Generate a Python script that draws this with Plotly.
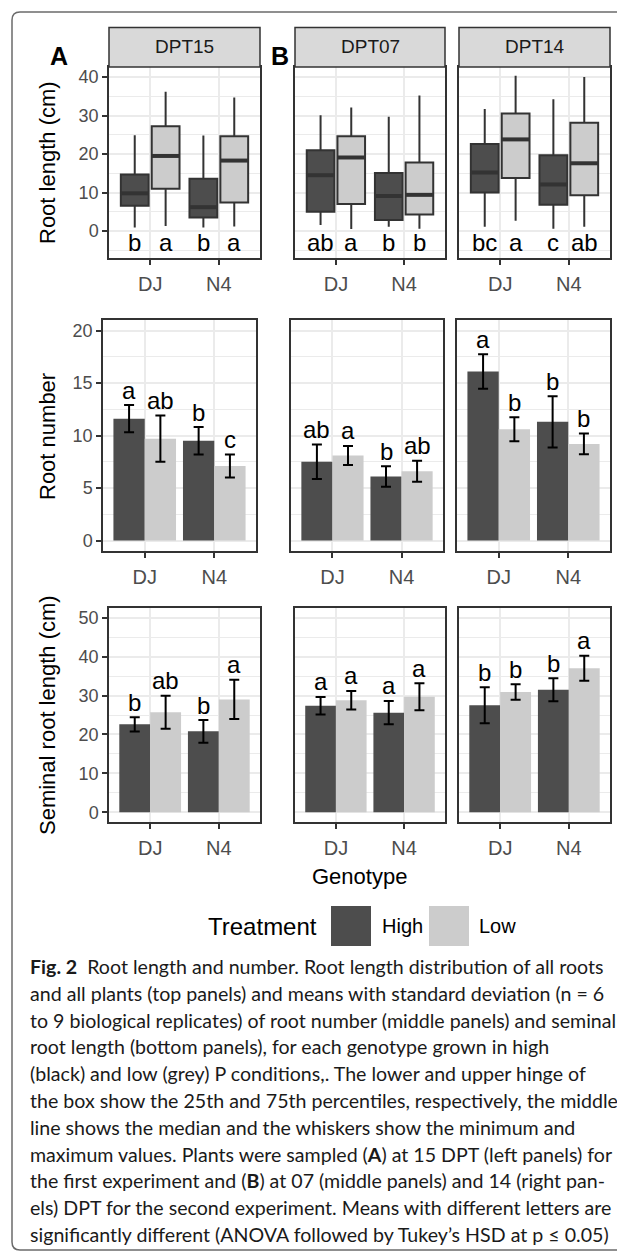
import plotly.graph_objects as go

# The page body has an 8px default margin, so the figure is drawn 8px smaller
# and all pixel positions (measured in window coordinates) are shifted by it.
WIN_W, WIN_H = 625, 1253
OFF = 8
W, H = WIN_W - OFF, WIN_H - OFF

# ---------------- data ----------------
genotypes = ["DJ", "N4"]
treatments = ["High", "Low"]
panels = ["DPT15", "DPT07", "DPT14"]
fill_colors = ["#4d4d4d", "#cccccc"]

# Root length distribution: [min, q1, median, q3, max] per genotype (DJ, N4)
rl_dpt15_high = [[0.9, 6.6, 9.8, 14.7, 24.9], [0.9, 3.5, 6.2, 13.6, 24.8]]
rl_dpt15_low = [[1.3, 11.0, 19.5, 27.2, 36.2], [1.2, 7.4, 18.3, 24.6, 34.7]]
rl_dpt07_high = [[1.6, 5.0, 14.5, 21.0, 30.1], [1.1, 2.9, 9.1, 15.1, 29.7]]
rl_dpt07_low = [[0.5, 7.0, 19.1, 24.6, 32.1], [0.6, 4.3, 9.4, 17.8, 35.2]]
rl_dpt14_high = [[1.1, 10.0, 15.2, 22.6, 31.7], [0.6, 6.8, 12.1, 19.7, 34.2]]
rl_dpt14_low = [[2.7, 13.8, 23.8, 30.5, 40.3], [1.1, 9.3, 17.6, 28.1, 40.0]]
rl_letters_dpt15 = [["b", "b"], ["a", "a"]]      # [High, Low] x [DJ, N4]
rl_letters_dpt07 = [["ab", "b"], ["a", "b"]]
rl_letters_dpt14 = [["bc", "c"], ["a", "ab"]]
rl_letter_y = -3.0

# Root number: mean and SD per genotype (DJ, N4)
rn_dpt15_high_mean = [11.6, 9.5]
rn_dpt15_high_sd = [1.3, 1.3]
rn_dpt15_low_mean = [9.7, 7.1]
rn_dpt15_low_sd = [2.2, 1.1]
rn_dpt07_high_mean = [7.5, 6.1]
rn_dpt07_high_sd = [1.65, 0.98]
rn_dpt07_low_mean = [8.1, 6.6]
rn_dpt07_low_sd = [0.9, 1.0]
rn_dpt14_high_mean = [16.1, 11.3]
rn_dpt14_high_sd = [1.65, 2.45]
rn_dpt14_low_mean = [10.6, 9.2]
rn_dpt14_low_sd = [1.15, 0.98]
rn_letters_dpt15 = [["a", "b"], ["ab", "c"]]
rn_letters_dpt07 = [["ab", "b"], ["a", "ab"]]
rn_letters_dpt14 = [["a", "b"], ["b", "b"]]

# Seminal root length: mean and SD per genotype (DJ, N4)
sl_dpt15_high_mean = [22.6, 20.8]
sl_dpt15_high_sd = [1.85, 2.9]
sl_dpt15_low_mean = [25.7, 29.0]
sl_dpt15_low_sd = [4.25, 5.05]
sl_dpt07_high_mean = [27.4, 25.6]
sl_dpt07_high_sd = [2.25, 3.0]
sl_dpt07_low_mean = [28.8, 29.7]
sl_dpt07_low_sd = [2.4, 3.45]
sl_dpt14_high_mean = [27.5, 31.5]
sl_dpt14_high_sd = [4.6, 2.95]
sl_dpt14_low_mean = [30.9, 37.0]
sl_dpt14_low_sd = [2.0, 3.2]
sl_letters_dpt15 = [["b", "b"], ["ab", "a"]]
sl_letters_dpt07 = [["a", "a"], ["a", "a"]]
sl_letters_dpt14 = [["b", "b"], ["b", "a"]]

caption_lines = [
    "<b>Fig. 2</b>  Root length and number. Root length distribution of all roots",
    "and all plants (top panels) and means with standard deviation (n = 6",
    "to 9 biological replicates) of root number (middle panels) and seminal",
    "root length (bottom panels), for each genotype grown in high",
    "(black) and low (grey) P conditions,. The lower and upper hinge of",
    "the box show the 25th and 75th percentiles, respectively, the middle",
    "line shows the median and the whiskers show the minimum and",
    "maximum values. Plants were sampled (<b>A</b>) at 15 DPT (left panels) for",
    "the first experiment and (<b>B</b>) at 07 (middle panels) and 14 (right pan-",
    "els) DPT for the second experiment. Means with different letters are",
    "significantly different (ANOVA followed by Tukey\u2019s HSD at p \u2264 0.05)",
]

# ---------------- layout helpers ----------------
FONT = "Liberation Sans, Arial, sans-serif"
CAP_FONT = "Lato, Open Sans, sans-serif"


def px_x(v):
    return (v - OFF) / W


def px_y(v):
    return 1 - (v - OFF) / H


DODGE = 0.9
n_tr = len(treatments)
slot = DODGE / n_tr
BOX_W = slot * 0.9


def pos(gi, ti):
    return gi - DODGE / 2 + slot * (ti + 0.5)


row_x_px = {
    "top": [(109, 260), (295, 445), (459, 610)],
    "mid": [(103, 256), (291, 443), (457, 610)],
    "bot": [(109, 260), (295, 445), (459, 610)],
}
row_y_px = {"top": (67, 258), "mid": (320, 551), "bot": (608, 822)}
row_yrange = {"top": [-7.0, 42.6], "mid": [-1.0, 21.0], "bot": [-2.5, 52.5]}
row_major = {"top": [0, 10, 20, 30, 40], "mid": [0, 5, 10, 15, 20], "bot": [0, 10, 20, 30, 40, 50]}
row_minor = {"top": [-5, 5, 15, 25, 35], "mid": [2.5, 7.5, 12.5, 17.5], "bot": [5, 15, 25, 35, 45]}
row_title = {"top": "Root length (cm)", "mid": "Root number", "bot": "Seminal root length (cm)"}
row_title_y = {"top": 162, "mid": 436, "bot": 715}

fig = go.Figure()
layout = dict(
    width=W, height=H, margin=dict(l=0, r=0, t=0, b=0),
    paper_bgcolor="white", plot_bgcolor="white",
    showlegend=False, barmode="overlay", boxmode="overlay",
    font=dict(family=FONT, color="black"),
)
annotations = []
shapes = []

axis_idx = 0
axis_of = {}
for row in ["top", "mid", "bot"]:
    for p in range(3):
        axis_idx += 1
        axis_of[(row, p)] = axis_idx
        xs = "" if axis_idx == 1 else str(axis_idx)
        x0, x1 = row_x_px[row][p]
        y0, y1 = row_y_px[row]
        layout["xaxis" + xs] = dict(
            domain=[px_x(x0), px_x(x1)], anchor="y" + xs,
            range=[-0.6, 1.6], tickmode="array", tickvals=list(range(len(genotypes))),
            ticktext=genotypes, showgrid=True, gridcolor="#ebebeb", gridwidth=1.6,
            zeroline=False, showline=True, linecolor="#333333", linewidth=1.5, mirror=True,
            ticks="outside", ticklen=5, tickwidth=1.5, tickcolor="#333333",
            ticklabelstandoff=2,
            tickfont=dict(size=20, color="#4d4d4d", family=FONT),
        )
        layout["yaxis" + xs] = dict(
            domain=[px_y(y1), px_y(y0)], anchor="x" + xs,
            range=row_yrange[row], tickmode="array", tickvals=row_major[row],
            ticktext=[str(v) for v in row_major[row]],
            showticklabels=(p == 0),
            showgrid=True, gridcolor="#ebebeb", gridwidth=1.6,
            minor=dict(tickmode="array", tickvals=row_minor[row], showgrid=True,
                       gridcolor="#ebebeb", gridwidth=0.8, ticks=""),
            zeroline=False, showline=True, linecolor="#333333", linewidth=1.5, mirror=True,
            ticks="outside" if p == 0 else "", ticklen=5, tickwidth=1.5, tickcolor="#333333",
            tickfont=dict(size=18, color="#4d4d4d", family=FONT),
        )

# ---- top row: boxplots ----
rl_data = [[rl_dpt15_high, rl_dpt15_low], [rl_dpt07_high, rl_dpt07_low], [rl_dpt14_high, rl_dpt14_low]]
rl_letters = [rl_letters_dpt15, rl_letters_dpt07, rl_letters_dpt14]
for p in range(3):
    ai = axis_of[("top", p)]
    xs = "" if ai == 1 else str(ai)
    for ti in range(n_tr):
        stats = rl_data[p][ti]
        xpos = [pos(gi, ti) for gi in range(len(genotypes))]
        fig.add_trace(go.Box(
            x=xpos,
            lowerfence=[s[0] for s in stats], q1=[s[1] for s in stats],
            median=[s[2] for s in stats], q3=[s[3] for s in stats],
            upperfence=[s[4] for s in stats],
            width=BOX_W, whiskerwidth=0, boxpoints=False,
            fillcolor=fill_colors[ti], line=dict(color="#333333", width=2),
            xaxis="x" + xs, yaxis="y" + xs, hoverinfo="skip",
        ))
        # thicker median line (ggplot fatten)
        mx, my = [], []
        for gi in range(len(genotypes)):
            mx += [xpos[gi] - BOX_W / 2, xpos[gi] + BOX_W / 2, None]
            my += [stats[gi][2], stats[gi][2], None]
        fig.add_trace(go.Scatter(x=mx, y=my, mode="lines",
                                 line=dict(color="#333333", width=4),
                                 xaxis="x" + xs, yaxis="y" + xs, hoverinfo="skip"))
        for gi in range(len(genotypes)):
            annotations.append(dict(
                x=xpos[gi], y=rl_letter_y, xref="x" + xs, yref="y" + xs,
                text=rl_letters[p][ti][gi], showarrow=False, yanchor="middle",
                font=dict(size=24, family=FONT, color="black"),
            ))

# ---- mid & bottom rows: bars with SD ----
rn_means = [[rn_dpt15_high_mean, rn_dpt15_low_mean], [rn_dpt07_high_mean, rn_dpt07_low_mean], [rn_dpt14_high_mean, rn_dpt14_low_mean]]
rn_sds = [[rn_dpt15_high_sd, rn_dpt15_low_sd], [rn_dpt07_high_sd, rn_dpt07_low_sd], [rn_dpt14_high_sd, rn_dpt14_low_sd]]
rn_letters = [rn_letters_dpt15, rn_letters_dpt07, rn_letters_dpt14]
sl_means = [[sl_dpt15_high_mean, sl_dpt15_low_mean], [sl_dpt07_high_mean, sl_dpt07_low_mean], [sl_dpt14_high_mean, sl_dpt14_low_mean]]
sl_sds = [[sl_dpt15_high_sd, sl_dpt15_low_sd], [sl_dpt07_high_sd, sl_dpt07_low_sd], [sl_dpt14_high_sd, sl_dpt14_low_sd]]
sl_letters = [sl_letters_dpt15, sl_letters_dpt07, sl_letters_dpt14]

for row, means, sds, letters in [("mid", rn_means, rn_sds, rn_letters), ("bot", sl_means, sl_sds, sl_letters)]:
    for p in range(3):
        ai = axis_of[(row, p)]
        xs = "" if ai == 1 else str(ai)
        for ti in range(n_tr):
            fig.add_trace(go.Bar(
                x=[pos(gi, ti) for gi in range(len(genotypes))],
                y=means[p][ti], width=slot,
                marker=dict(color=fill_colors[ti], line=dict(width=0)),
                error_y=dict(type="data", array=sds[p][ti], visible=True,
                             color="black", thickness=2, width=5),
                xaxis="x" + xs, yaxis="y" + xs, hoverinfo="skip",
            ))
            for gi in range(len(genotypes)):
                annotations.append(dict(
                    x=pos(gi, ti), y=means[p][ti][gi] + sds[p][ti][gi],
                    xref="x" + xs, yref="y" + xs, yshift=15,
                    text=letters[p][ti][gi], showarrow=False, yanchor="middle",
                    font=dict(size=24, family=FONT, color="black"),
                ))

# ---- strips ----
for p, name in enumerate(panels):
    x0, x1 = row_x_px["top"][p]
    shapes.append(dict(type="rect", xref="paper", yref="paper",
                       x0=px_x(x0), x1=px_x(x1), y0=px_y(67), y1=px_y(27.5),
                       fillcolor="#d9d9d9", line=dict(color="#333333", width=1.5)))
    annotations.append(dict(x=px_x((x0 + x1) / 2), y=px_y(47), xref="paper", yref="paper",
                            text=name, showarrow=False, xanchor="center", yanchor="middle",
                            font=dict(size=19, color="#1a1a1a", family=FONT)))

# panel tags
annotations.append(dict(x=px_x(48), y=px_y(40), xref="paper", yref="paper", text="<b>A</b>",
                        showarrow=False, font=dict(size=25, family=FONT, color="black")))
annotations.append(dict(x=px_x(280), y=px_y(40), xref="paper", yref="paper", text="<b>B</b>",
                        showarrow=False, font=dict(size=25, family=FONT, color="black")))

# y titles
for row in ["top", "mid", "bot"]:
    annotations.append(dict(x=px_x(47), y=px_y(row_title_y[row]), xref="paper", yref="paper",
                            text=row_title[row], textangle=-90, showarrow=False,
                            xanchor="center", yanchor="middle",
                            font=dict(size=22, family=FONT, color="black")))

# x title
annotations.append(dict(x=px_x(359.5), y=px_y(876), xref="paper", yref="paper",
                        text="Genotype", showarrow=False, xanchor="center", yanchor="middle",
                        font=dict(size=22, family=FONT, color="black")))

# legend
annotations.append(dict(x=px_x(262.5), y=px_y(926), xref="paper", yref="paper",
                        text="Treatment", showarrow=False, xanchor="center", yanchor="middle",
                        font=dict(size=24, family=FONT, color="black")))
leg_key_x = [331, 429]
leg_txt_x = [380, 477]
for ti, tname in enumerate(treatments):
    shapes.append(dict(type="rect", xref="paper", yref="paper",
                       x0=px_x(leg_key_x[ti]), x1=px_x(leg_key_x[ti] + 40),
                       y0=px_y(946), y1=px_y(906),
                       fillcolor=fill_colors[ti], line=dict(width=0)))
    annotations.append(dict(x=px_x(leg_txt_x[ti]), y=px_y(926), xref="paper", yref="paper",
                            text=tname, showarrow=False, xanchor="left", yanchor="middle",
                            font=dict(size=20, family=FONT, color="black")))

# caption
for i, line in enumerate(caption_lines):
    annotations.append(dict(x=px_x(28), y=px_y(966.7 + i * 26.76), xref="paper", yref="paper",
                            text=line, showarrow=False, xanchor="left", yanchor="middle",
                            font=dict(size=19.6, family=CAP_FONT, color="#1a1a1a")))

# outer rounded frame (right side runs off the page)
fx0, fy0, fy1, r = 12, 12, 1250, 8
path = (f"M {px_x(640)},{px_y(fy0)} L {px_x(fx0 + r)},{px_y(fy0)} "
        f"Q {px_x(fx0)},{px_y(fy0)} {px_x(fx0)},{px_y(fy0 + r)} "
        f"L {px_x(fx0)},{px_y(fy1 - r)} Q {px_x(fx0)},{px_y(fy1)} {px_x(fx0 + r)},{px_y(fy1)} "
        f"L {px_x(640)},{px_y(fy1)}")
shapes.append(dict(type="path", xref="paper", yref="paper", path=path,
                   line=dict(color="#6b6b6b", width=1.5)))

layout["annotations"] = annotations
layout["shapes"] = shapes
fig.update_layout(**layout)
fig.write_html("out.html")
